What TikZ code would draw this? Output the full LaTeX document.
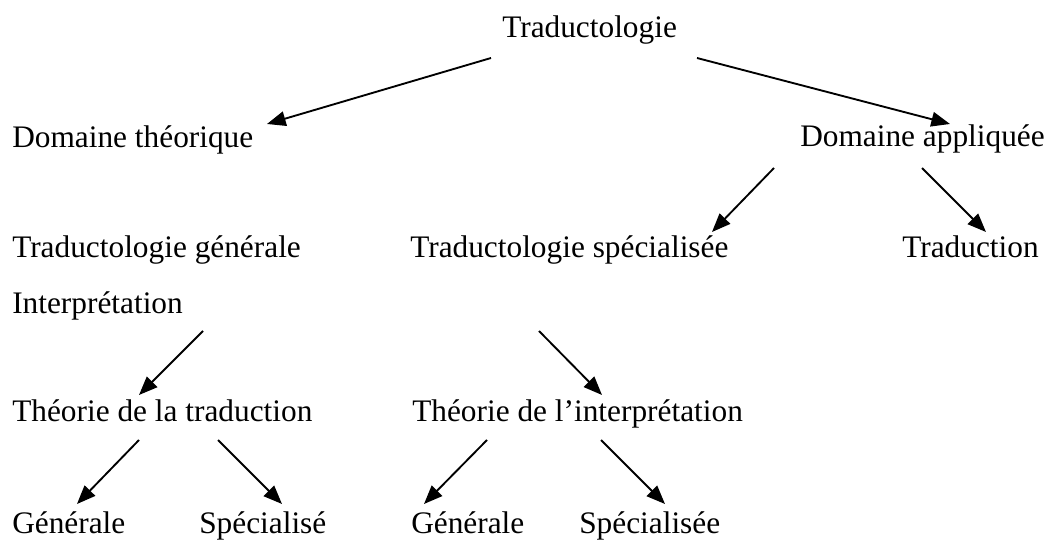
\documentclass[tikz,border=0pt]{standalone}
\usepackage{fontspec}
\setmainfont{Liberation Serif}
\usetikzlibrary{arrows.meta}

\begin{document}
\begin{tikzpicture}[x=0.75pt, y=-0.75pt,
  lbl/.style={anchor=base west, inner sep=0pt, font=\fontsize{23.5}{28}\selectfont},
  arr/.style={-{Triangle[length=14pt, width=11pt]}, line width=1.4pt, black}]
\useasboundingbox (0,0) rectangle (1054,541);
\node [lbl] (trad) at (502,38) {Traductologie};
\node [lbl] (dth) at (12,148) {Domaine théorique};
\node [lbl] (dapp) at (800,147) {Domaine appliquée};
\node [lbl] (tgen) at (12,258) {Traductologie générale};
\node [lbl] (tspe) at (410,258) {Traductologie spécialisée};
\node [lbl] (traduc) at (902,258) {Traduction};
\node [lbl] (interp) at (12,314) {Interprétation};
\node [lbl] (ttrad) at (12,422) {Théorie de la traduction};
\node [lbl] (tinterp) at (412,422) {Théorie de l’interprétation};
\node [lbl] (gena) at (12,534) {Générale};
\node [lbl] (spea) at (199,534) {Spécialisé};
\node [lbl] (genb) at (411,534) {Générale};
\node [lbl] (speb) at (579,534) {Spécialisée};
\draw[arr] ([shift={(-11,20)}]trad.base west) -- ([shift={(255,-24)}]dth.base west);
\draw[arr] ([shift={(195,20)}]trad.base west) -- ([shift={(150,-23)}]dapp.base west);
\draw[arr] ([shift={(-26,21)}]dapp.base west) -- ([shift={(302,-26)}]tspe.base west);
\draw[arr] ([shift={(122,21)}]dapp.base west) -- ([shift={(84,-26)}]traduc.base west);
\draw[arr] ([shift={(191,17)}]interp.base west) -- ([shift={(127,-27)}]ttrad.base west);
\draw[arr] ([shift={(129,73)}]tspe.base west) -- ([shift={(190,-27)}]tinterp.base west);
\draw[arr] ([shift={(127,18)}]ttrad.base west) -- ([shift={(65,-30)}]gena.base west);
\draw[arr] ([shift={(206,18)}]ttrad.base west) -- ([shift={(83,-30)}]spea.base west);
\draw[arr] ([shift={(75,18)}]tinterp.base west) -- ([shift={(13,-30)}]genb.base west);
\draw[arr] ([shift={(189,18)}]tinterp.base west) -- ([shift={(86,-30)}]speb.base west);
\end{tikzpicture}
\end{document}
